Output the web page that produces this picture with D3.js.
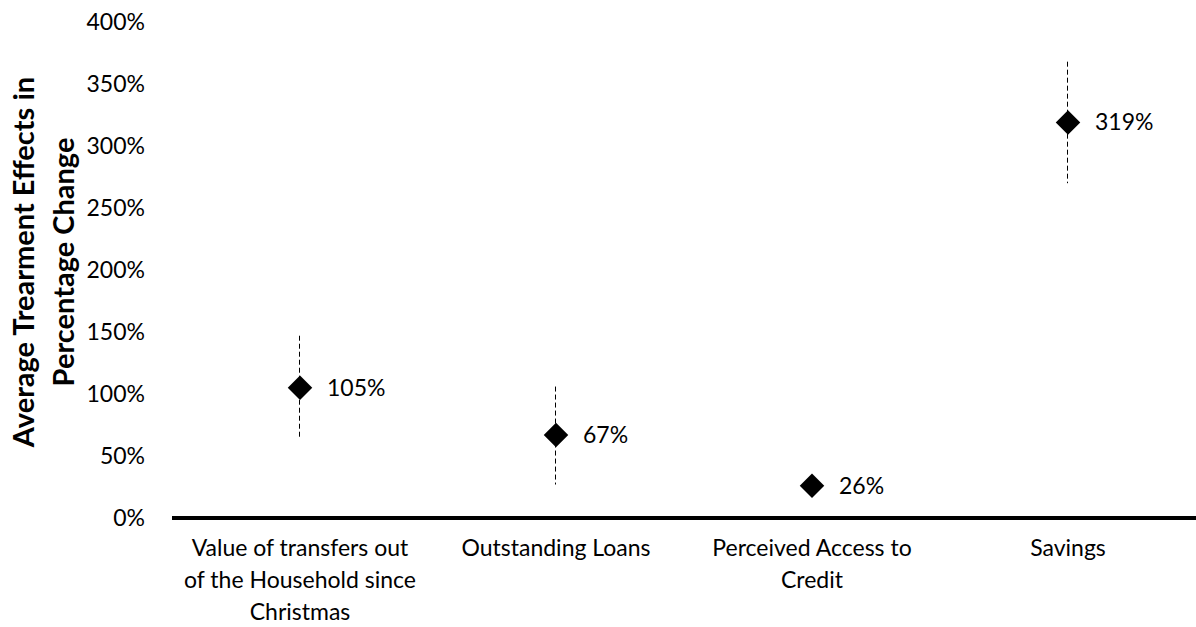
<!DOCTYPE html>
<html>
<head>
<meta charset="utf-8">
<script src="https://cdn.jsdelivr.net/npm/d3@7"></script>
<style>
  body { margin: 0; background: #fff; }
  svg { display: block; font-family: Lato, "Open Sans", sans-serif; }
</style>
</head>
<body>
<script>
// data
let categories = [
    ["Value of transfers out", "of the Household since", "Christmas"],
    ["Outstanding Loans"],
    ["Perceived Access to", "Credit"],
    ["Savings"]
];
let effects = [105, 67, 26, 319];
let lower = [64, 27, 21, 270];
let upper = [147, 106, 31, 368];
let yTicks = [0, 50, 100, 150, 200, 250, 300, 350, 400];

let width = 1196, height = 627;
let margin = {left: 172, right: 0, top: 22, bottom: 109};

let svg = d3.select("body").append("svg")
    .attr("width", width)
    .attr("height", height);

let x = d3.scaleBand()
    .domain(d3.range(categories.length))
    .range([margin.left, width - margin.right]);

let y = d3.scaleLinear()
    .domain([0, 400])
    .range([height - margin.bottom, margin.top]);

// y tick labels (no axis line)
svg.append("g")
    .selectAll("text")
    .data(yTicks)
    .join("text")
    .attr("x", 145)
    .attr("y", d => y(d))
    .attr("dy", "0.35em")
    .attr("text-anchor", "end")
    .attr("font-size", 23)
    .attr("fill", "#000")
    .text(d => d + "%");

// y title
let title = svg.append("text")
    .attr("transform", `translate(0,${262}) rotate(-90)`)
    .attr("text-anchor", "middle")
    .attr("font-size", 29)
    .attr("font-weight", "bold");
title.append("tspan").attr("x", 0).attr("y", 34).text("Average Trearment Effects in");
title.append("tspan").attr("x", 0).attr("y", 74).text("Percentage Change");

// baseline
svg.append("line")
    .attr("x1", margin.left)
    .attr("x2", width)
    .attr("y1", y(0))
    .attr("y2", y(0))
    .attr("stroke", "#000")
    .attr("stroke-width", 4);

// category labels
let cat = svg.append("g")
    .selectAll("text")
    .data(categories)
    .join("text")
    .attr("text-anchor", "middle")
    .attr("font-size", 23)
    .attr("fill", "#000");
cat.selectAll("tspan")
    .data((d, i) => d.map(s => ({s, i})))
    .join("tspan")
    .attr("x", d => x(d.i) + x.bandwidth() / 2)
    .attr("y", (d, j) => 556 + j * 32)
    .text(d => d.s);

let cx = i => x(i) + x.bandwidth() / 2;

// error bars
svg.append("g")
    .selectAll("line")
    .data(effects)
    .join("line")
    .attr("x1", (d, i) => cx(i) - 0.5)
    .attr("x2", (d, i) => cx(i) - 0.5)
    .attr("y1", (d, i) => y(upper[i]))
    .attr("y2", (d, i) => y(lower[i]))
    .attr("stroke", "#000")
    .attr("stroke-width", 1)
    .attr("stroke-dasharray", "5,3");

// diamonds
svg.append("g")
    .selectAll("path")
    .data(effects)
    .join("path")
    .attr("d", d3.symbol(d3.symbolSquare, 300))
    .attr("transform", (d, i) => `translate(${cx(i)},${y(d)}) rotate(45)`)
    .attr("fill", "#000");

// value labels
svg.append("g")
    .selectAll("text")
    .data(effects)
    .join("text")
    .attr("x", (d, i) => cx(i) + 27)
    .attr("y", d => y(d))
    .attr("dy", "0.35em")
    .attr("font-size", 23)
    .attr("fill", "#000")
    .text(d => d + "%");
</script>
</body>
</html>
